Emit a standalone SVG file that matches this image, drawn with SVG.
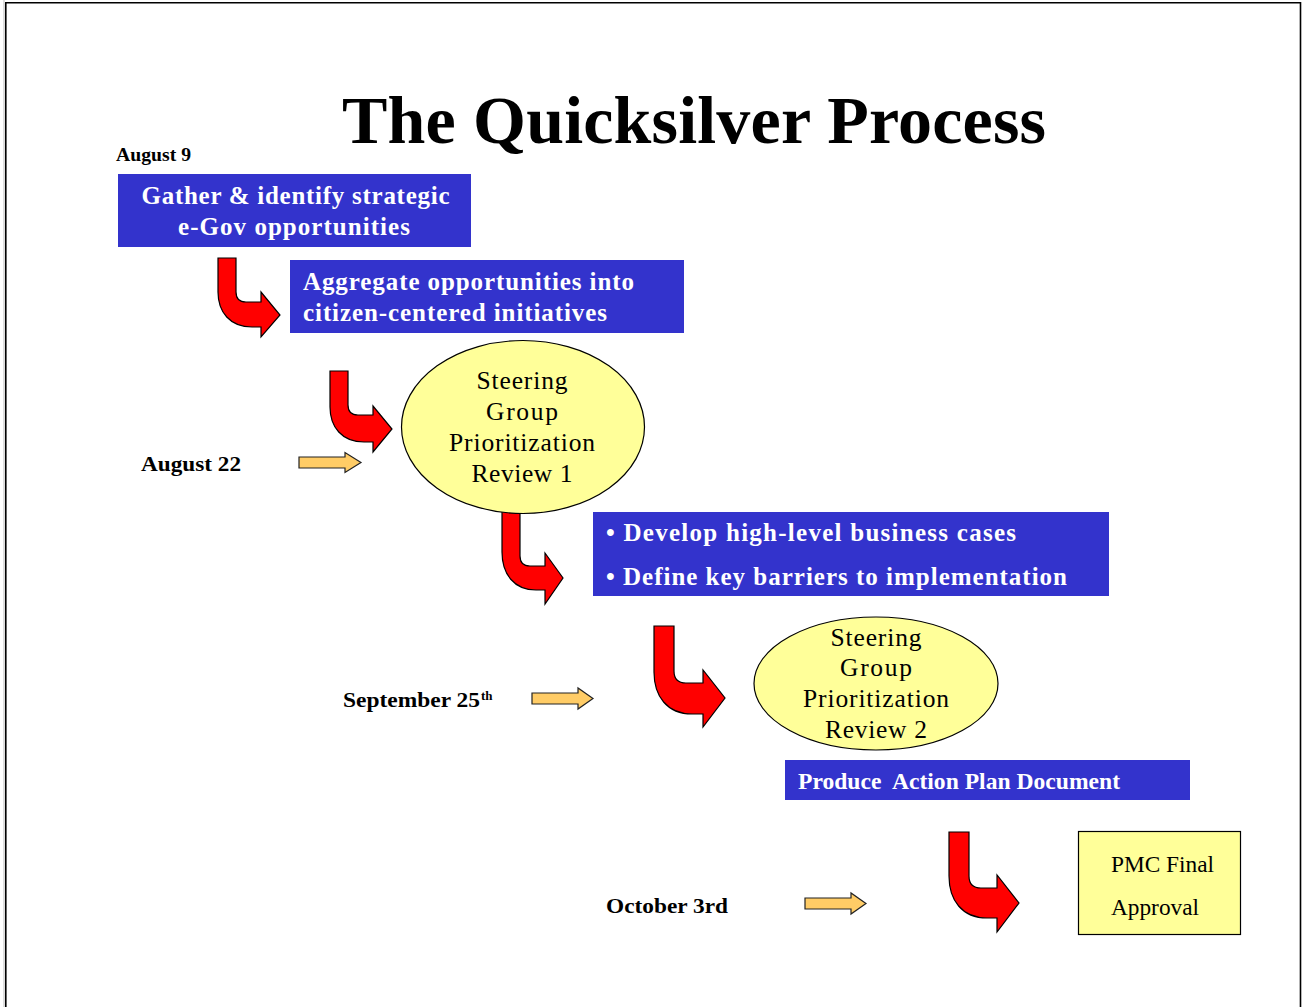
<svg xmlns="http://www.w3.org/2000/svg" width="1302" height="1007" viewBox="0 0 1302 1007">
<style>
.serif{font-family:"Liberation Serif","Times New Roman",serif}
.bt{font-family:"Liberation Serif","Times New Roman",serif;font-weight:bold;font-size:25px;fill:#fff}
.et{font-family:"Liberation Serif","Times New Roman",serif;font-size:25.5px;fill:#000;text-anchor:middle}
.dt{font-family:"Liberation Serif","Times New Roman",serif;font-weight:bold;font-size:22px;fill:#000}
.blue{fill:#3333cc}
.ell{fill:#ffff99;stroke:#000;stroke-width:1.2}
.red{fill:#ff0000;stroke:#000;stroke-width:1.2;stroke-linejoin:miter}
.org{fill:#ffcc66;stroke:#222;stroke-width:1.2}
</style>
<rect x="0" y="0" width="1302" height="1007" fill="#fff"/>
<line x1="4" y1="0" x2="4" y2="1007" stroke="#bbb" stroke-width="1"/>
<path d="M5.8,1007 V2.8 H1300.5 V1007" fill="none" stroke="#000" stroke-width="1.6"/>

<text id="title" x="694" y="143" class="serif" font-size="68" font-weight="bold" text-anchor="middle" textLength="704" lengthAdjust="spacing">The Quicksilver Process</text>

<g id="connectors">
  <path class="red" d="M218,258 H236 V292 Q236,302 246,302 H261 V292 L280,315 L261,337 V327 H252 C230,327 218,312 218,292 Z"/>
  <path class="red" d="M330,371 H348 V405 Q348,415 358,415 H373 V406 L392,429 L373,452 V442 H364 C342,442 330,427 330,407 Z"/>
  <path class="red" d="M502,505 H520 V556 Q520,566 530,566 H545 V553 L563,578 L545,604 V590 H536 C514,590 502,574 502,552 Z"/>
  <path class="red" d="M654,626 H674 V671 Q674,683 686,683 H703 V670 L725,698 L703,727 V714 H692 C667,714 654,696 654,672 Z"/>
  <path class="red" d="M949,832 H969 V876 Q969,888 981,888 H997 V875 L1019,903 L997,932 V918 H987 C962,918 949,900 949,876 Z"/>
  <path class="org" d="M299,457 H345 V452.5 L361,462.5 L345,472.5 V468 H299 Z"/>
  <path class="org" d="M532,693 H578 V688 L593,698.5 L578,709 V704 H532 Z"/>
  <path class="org" d="M805,898 H851 V893 L866,903.5 L851,914 V909 H805 Z"/>
</g>

<g id="label-aug9"><text x="116" y="161" class="dt" style="font-size:18.5px" textLength="75" lengthAdjust="spacingAndGlyphs">August 9</text></g>
<g id="label-aug22"><text x="141" y="471" class="dt" textLength="100" lengthAdjust="spacingAndGlyphs">August 22</text></g>
<g id="label-sep25"><text x="343" y="707" class="dt" textLength="137" lengthAdjust="spacingAndGlyphs">September 25</text><text x="481" y="700" class="dt" style="font-size:13px">th</text></g>
<g id="label-oct3"><text x="606" y="913" class="dt" textLength="122" lengthAdjust="spacingAndGlyphs">October 3rd</text></g>

<g id="gather">
  <rect class="blue" x="118" y="174" width="353" height="73"/>
  <text x="295.5" y="204" class="bt" text-anchor="middle" textLength="308" lengthAdjust="spacing">Gather &amp; identify strategic</text>
  <text x="294" y="235" class="bt" text-anchor="middle" textLength="232" lengthAdjust="spacing">e-Gov opportunities</text>
</g>

<g id="aggregate">
  <rect class="blue" x="290" y="260" width="394" height="73"/>
  <text x="303" y="290" class="bt" textLength="331" lengthAdjust="spacing">Aggregate opportunities into</text>
  <text x="303" y="321" class="bt" textLength="304" lengthAdjust="spacing">citizen-centered initiatives</text>
</g>

<g id="review1">
  <ellipse class="ell" cx="523" cy="427" rx="121.5" ry="86.5"/>
  <text x="522" y="389" class="et" textLength="91" lengthAdjust="spacing">Steering</text>
  <text x="522" y="420" class="et" textLength="72" lengthAdjust="spacing">Group</text>
  <text x="522" y="451" class="et" textLength="146" lengthAdjust="spacing">Prioritization</text>
  <text x="522" y="482" class="et" textLength="101" lengthAdjust="spacing">Review 1</text>
</g>

<g id="business">
  <rect class="blue" x="593" y="512" width="516" height="84"/>
  <text x="606" y="541" class="bt" textLength="410" lengthAdjust="spacing">• Develop high-level business cases</text>
  <text x="606" y="585" class="bt" textLength="461" lengthAdjust="spacing">• Define key barriers to implementation</text>
</g>

<g id="review2">
  <ellipse class="ell" cx="876" cy="683.5" rx="122" ry="66.5"/>
  <text x="876" y="646" class="et" textLength="91" lengthAdjust="spacing">Steering</text>
  <text x="876" y="676" class="et" textLength="72" lengthAdjust="spacing">Group</text>
  <text x="876" y="707" class="et" textLength="146" lengthAdjust="spacing">Prioritization</text>
  <text x="876" y="738" class="et" textLength="102" lengthAdjust="spacing">Review 2</text>
</g>

<g id="action-plan">
  <rect class="blue" x="785" y="760" width="405" height="40"/>
  <text x="798" y="789" class="bt" style="font-size:23px" textLength="322" lengthAdjust="spacingAndGlyphs" xml:space="preserve">Produce  Action Plan Document</text>
</g>

<g id="pmc">
  <rect x="1078.5" y="831.5" width="162" height="103" fill="#ffff99" stroke="#000" stroke-width="1.2"/>
  <text x="1111" y="872" class="serif" font-size="24" textLength="103" lengthAdjust="spacingAndGlyphs">PMC Final</text>
  <text x="1111" y="915" class="serif" font-size="24" textLength="88" lengthAdjust="spacingAndGlyphs">Approval</text>
</g>
</svg>
